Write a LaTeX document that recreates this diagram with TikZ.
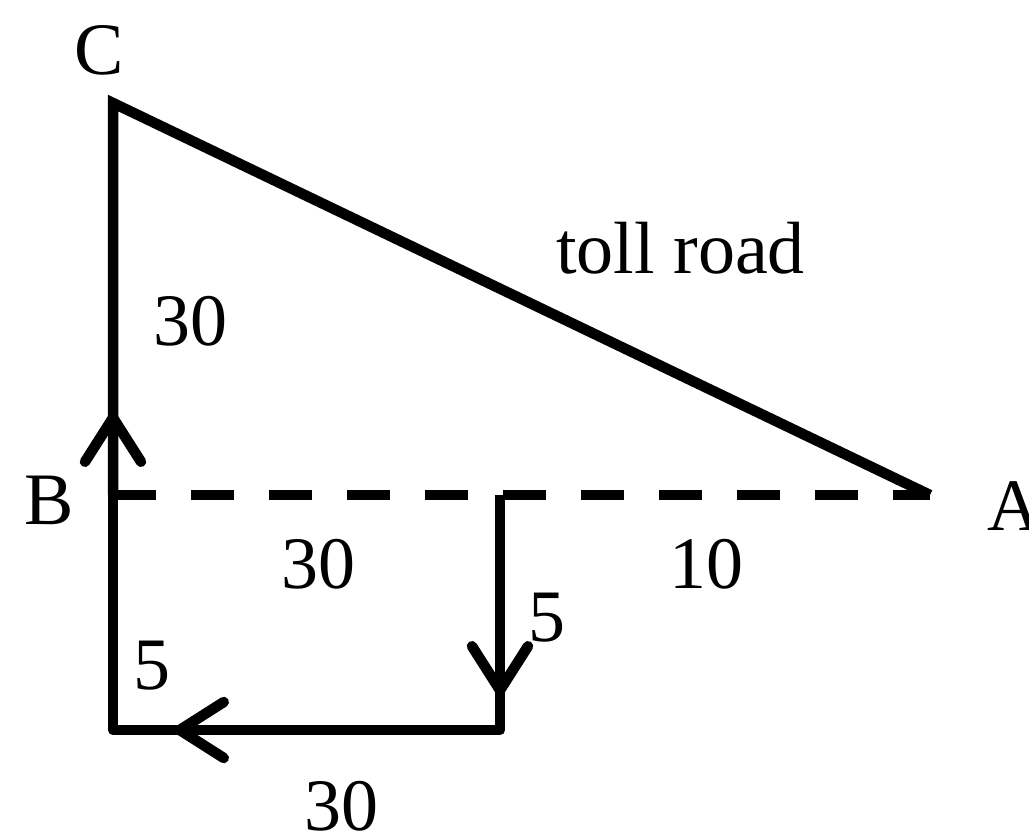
\documentclass[tikz,border=0pt]{standalone}
\usepackage{fontspec}
\setmainfont{Liberation Serif}
\usetikzlibrary{arrows.meta}
\begin{document}
\begin{tikzpicture}[x=1pt,y=-1pt,
  road/.style={line width=10.5pt, line join=round},
  tollroad/.style={line width=10.5pt},
  dashroad/.style={line width=10.5pt, dash pattern=on 43pt off 35pt},
  flow/.style={road, -{Straight Barb[length=44pt,width=56pt,line cap=round]}},
  lbl/.style={inner sep=0pt, anchor=base, font=\fontsize{74}{80}\selectfont}]
\useasboundingbox (0,0) rectangle (1029,835);
% points
\coordinate (C) at (113,103);
\coordinate (B) at (113,495);
\coordinate (A) at (930,495);
\coordinate (J) at (500,495);
\coordinate (D) at (500,730);
\coordinate (E) at (113,730);
\coordinate (upTip) at (113,408);
\coordinate (downTip) at (500,700);
\coordinate (leftTip) at (170,730);
% roads
\draw[tollroad] (A) -- (C) -- (B);
\draw[dashroad] (B) -- (A);
\draw[flow] (B) -- (upTip);
\draw[road] (J) -- (D) -- (leftTip);
\draw[flow] (J) -- (downTip);
\draw[flow] (D) -- (leftTip);
\draw[road] (leftTip) -- (E) -- (B);
% labels
\node[lbl] (lC) at (99.5,74) {C};
\node[lbl] (lB) at (49.5,524) {B};
\node[lbl] (lA) at (1014,530) {A};
\node[lbl] (lCB) at (190,345) {30};
\node[lbl] (lToll) at (680.5,273) {toll road};
\node[lbl] (lBJ) at (318,588) {30};
\node[lbl] (lJA) at (706,588) {10};
\node[lbl] (lJD) at (546.5,641) {5};
\node[lbl] (lEB) at (151.5,689) {5};
\node[lbl] (lDE) at (341,830) {30};
\end{tikzpicture}
\end{document}
